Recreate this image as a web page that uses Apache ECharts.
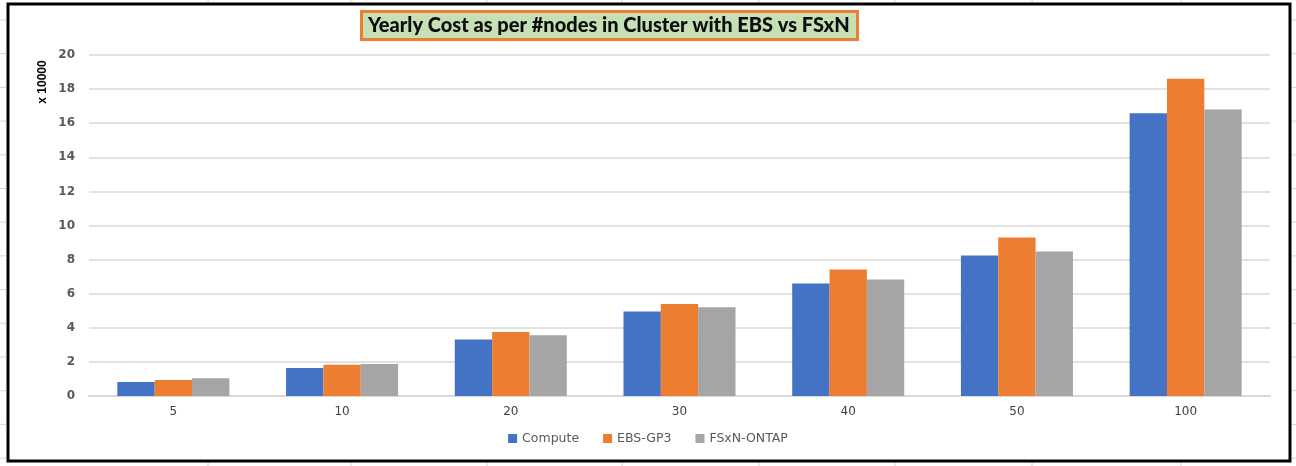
<!DOCTYPE html>
<html>
<head>
<meta charset="utf-8">
<script src="https://cdn.jsdelivr.net/npm/echarts@6/dist/echarts.min.js"></script>
<style>
  html, body { margin: 0; padding: 0; background: #fff; }
  #chart { width: 1296px; height: 466px; }
</style>
</head>
<body>
<div id="chart"></div>
<script>
// nodes in cluster
var categories = ['5', '10', '20', '30', '40', '50', '100'];
// yearly cost, in units of 10000
var compute = [0.82, 1.64, 3.32, 4.96, 6.6, 8.24, 16.58];
var ebsGp3 = [0.94, 1.84, 3.75, 5.39, 7.42, 9.3, 18.61];
var fsxnOntap = [1.04, 1.87, 3.56, 5.2, 6.84, 8.48, 16.8];
var seriesNames = ['Compute', 'EBS-GP3', 'FSxN-ONTAP'];

var chart = echarts.init(document.getElementById('chart'));

function barSeries(name, data) {
	return {
		name: name,
		type: 'bar',
		data: data,
		barGap: 0,
		barCategoryGap: '33.6%'
	};
}

// faint spreadsheet cell lines showing round the chart frame
var cellLines = [];
var colX = [208, 351, 487, 622, 759, 895, 1032, 1181];
colX.forEach(function (x) {
	cellLines.push({ type: 'line', shape: { x1: x, y1: 0, x2: x, y2: 3 } });
	cellLines.push({ type: 'line', shape: { x1: x, y1: 462, x2: x, y2: 466 } });
});
for (var y = 20; y < 460; y += 33.7) {
	cellLines.push({ type: 'line', shape: { x1: 0, y1: y, x2: 6, y2: y } });
	cellLines.push({ type: 'line', shape: { x1: 1292, y1: y, x2: 1296, y2: y } });
}
cellLines.forEach(function (l) {
	l.silent = true;
	l.style = { stroke: '#d4d4d4', lineWidth: 1 };
});

var option = {
	animation: false,
	color: ['#4472c4', '#ed7d31', '#a5a5a5'],
	title: {
		text: 'Yearly Cost as per #nodes in Cluster with EBS vs FSxN',
		left: 361,
		top: 11,
		backgroundColor: '#c5e0b4',
		borderColor: '#ed7d31',
		borderWidth: 3,
		padding: [5, 8, 4, 7],
		textStyle: {
			fontFamily: 'Lato',
			fontWeight: 900,
			fontSize: 20,
			color: '#0d0d0d'
		}
	},
	grid: {
		left: 89,
		right: 26,
		top: 55,
		bottom: 70
	},
	legend: {
		bottom: 16,
		left: 'center',
		itemWidth: 9,
		itemHeight: 9,
		itemGap: 24,
		icon: 'rect',
		data: seriesNames,
		textStyle: {
			fontFamily: 'DejaVu Sans',
			fontSize: 12.5,
			color: '#595959'
		}
	},
	xAxis: {
		type: 'category',
		data: categories,
		axisLine: { lineStyle: { color: '#d9d9d9', width: 2 } },
		axisTick: { show: false },
		axisLabel: {
			margin: 10,
			fontFamily: 'DejaVu Sans',
			fontSize: 12,
			color: '#404040'
		}
	},
	yAxis: {
		type: 'value',
		min: 0,
		max: 20,
		interval: 2,
		axisLine: { show: false },
		axisTick: { show: false },
		splitLine: { lineStyle: { color: '#d9d9d9', width: 1.5 } },
		axisLabel: {
			margin: 14,
			fontFamily: 'DejaVu Sans',
			fontWeight: 'bold',
			fontSize: 12,
			color: '#595959'
		}
	},
	graphic: cellLines.concat([{
		type: 'rect',
		shape: { x: 8, y: 4, width: 1282, height: 457 },
		style: { fill: null, stroke: '#000', lineWidth: 3 },
		silent: true
	}, {
		type: 'text',
		x: 43,
		y: 82,
		rotation: Math.PI / 2,
		style: {
			text: 'x 10000',
			fontFamily: 'Liberation Sans',
			fontWeight: 'bold',
			fontSize: 12,
			fill: '#000',
			align: 'center',
			verticalAlign: 'middle'
		}
	}]),
	series: [
		barSeries(seriesNames[0], compute),
		barSeries(seriesNames[1], ebsGp3),
		barSeries(seriesNames[2], fsxnOntap)
	]
};

chart.setOption(option);
</script>
</body>
</html>
